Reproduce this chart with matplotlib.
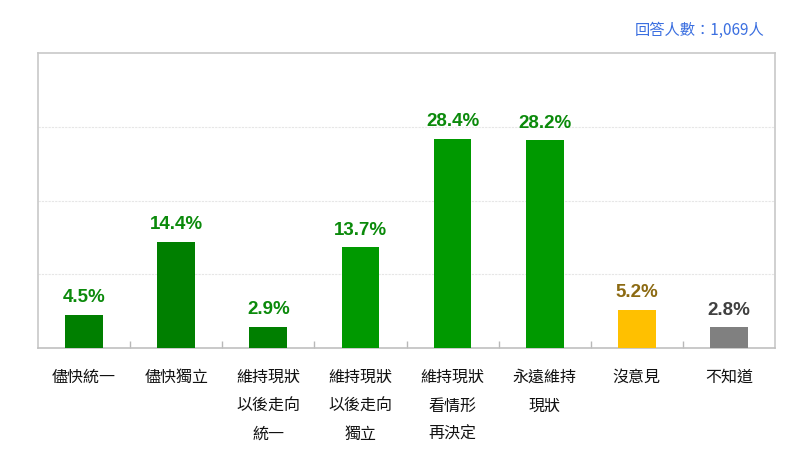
import numpy as np
import matplotlib.pyplot as plt

# survey answers and shares (%)
categories = ['儘快統一', '儘快獨立', '維持現狀\n以後走向\n統一', '維持現狀\n以後走向\n獨立',
              '維持現狀\n看情形\n再決定', '永遠維持\n現狀', '沒意見', '不知道']
values = [4.5, 14.4, 2.9, 13.7, 28.4, 28.2, 5.2, 2.8]
labels = ['4.5%', '14.4%', '2.9%', '13.7%', '28.4%', '28.2%', '5.2%', '2.8%']
note = '回答人數：1,069人'

bar_colors = ['#007f00', '#007f00', '#007f00', '#009900', '#009900', '#009900', '#ffc000', '#808080']
label_colors = ['#0b8a0b'] * 6 + ['#8c6a12', '#404040']

fig = plt.figure(figsize=(8, 4.65), dpi=100)
ax = fig.add_axes([0.0475, 0.2516, 0.92125, 0.6344])

x = np.arange(len(values))
ax.bar(x, values, width=0.41, color=bar_colors, zorder=3)

ax.set_xlim(-0.5, len(values) - 0.5)
ax.set_ylim(0, 40)
ax.set_yticks([10, 20, 30])
ax.yaxis.grid(True, color='#e6e6e6', linewidth=0.8, linestyle=(0, (2, 1)))
ax.tick_params(axis='y', length=0, labelleft=False)

ax.set_xticks([])
ax.set_xticks(x[:-1] + 0.5, minor=True)
ax.tick_params(axis='x', which='minor', direction='in', length=5, color='#b8b8b8', width=1)

for side in ['left', 'top', 'right']:
    ax.spines[side].set_color('#c8c8c8')
    ax.spines[side].set_linewidth(1.2)
ax.spines['bottom'].set_color('#c0c0c0')
ax.spines['bottom'].set_linewidth(1.2)

for xi, v, lab, c in zip(x, values, labels, label_colors):
    ax.annotate(lab, (xi, v), xytext=(0, 6), textcoords='offset points',
                ha='center', va='bottom', fontsize=13.5, fontweight='bold',
                color=c, family=['Liberation Sans', 'DejaVu Sans'])

for xi, cat in zip(x, categories):
    ax.text(xi, -0.07, cat, transform=ax.get_xaxis_transform(), ha='center', va='top',
            fontsize=11.5, linespacing=1.9, color='#111111', fontweight='medium',
            family=['Noto Sans CJK TC', 'DejaVu Sans'])

fig.text(0.956, 0.934, note, ha='right', va='center', fontsize=11, color='#3b6fe0',
         fontweight='medium', family=['Noto Sans CJK TC', 'DejaVu Sans'])

fig.savefig('out.png', dpi=100)
